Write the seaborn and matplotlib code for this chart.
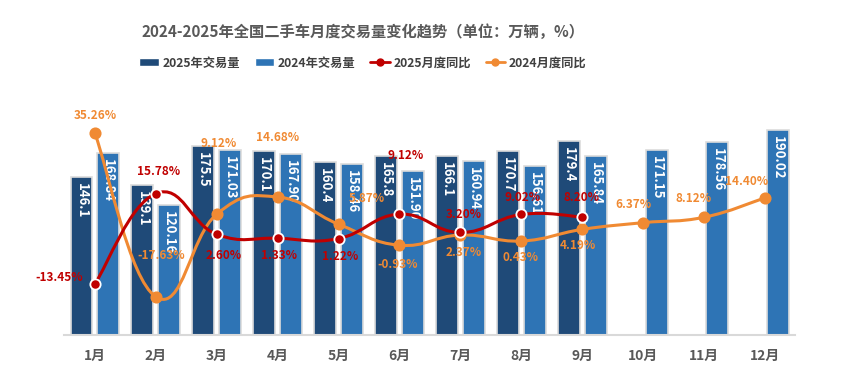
import numpy as np
import pandas as pd
import seaborn as sns
from matplotlib import pyplot as plt
from matplotlib.path import Path
from matplotlib.patches import PathPatch, Patch
from matplotlib.lines import Line2D

months = ['1月', '2月', '3月', '4月', '5月', '6月', '7月', '8月', '9月', '10月', '11月', '12月']
vol_2025 = [146.1, 139.1, 175.5, 170.1, 160.4, 165.8, 166.1, 170.7, 179.4]
vol_2024 = [168.84, 120.16, 171.03, 167.90, 158.46, 151.90, 160.94, 156.61, 165.84, 171.15, 178.56, 190.02]
yoy_2025 = [-13.45, 15.78, 2.60, 1.33, 1.22, 9.12, 3.20, 9.02, 8.20]
yoy_2024 = [35.26, -17.63, 9.12, 14.68, 5.87, -0.93, 2.37, 0.43, 4.19, 6.37, 8.12, 14.40]

# label offsets in pixels (dx, dy), layout only
off_2025 = [(-36, 6), (3, 22), (7, -21), (1, -17), (2, -18), (6, 59), (3, 18), (1, 17), (-1, 20)]
off_2024 = [(0, 18), (5, 41), (2, 71), (0, 59), (28, 26), (-2, -19), (3, -17), (-1, -16),
            (-4, -16), (-10, 18), (-10, 19), (-18, 16)]

C25 = '#1f4a78'
C24 = '#2e74b5'
RED = '#c00000'
ORG = '#f08a33'

sns.set_theme(style="white")
plt.rcParams['font.family'] = ['Noto Sans CJK SC', 'DejaVu Sans']

n = len(months)
df = pd.DataFrame({
    'month': months * 2,
    'year': ['2025年交易量'] * n + ['2024年交易量'] * n,
    'vol': vol_2025 + [np.nan] * (n - len(vol_2025)) + vol_2024,
})

fig = plt.figure(figsize=(8.48, 3.91), dpi=100)
ax = fig.add_axes([0.076, 0.1432, 0.862, 0.632])
sns.barplot(data=df, x='month', y='vol', hue='year', order=months,
            hue_order=['2025年交易量', '2024年交易量'], palette=[C25, C24], saturation=1,
            errorbar=None, width=0.88, gap=0.18, legend=False, ax=ax,
            edgecolor='#dcdcdc', linewidth=1.2)
ax.set_ylim(0, 229)
ax.set_xlim(-0.5, n - 0.5)
ax.set_xlabel('')
ax.set_ylabel('')
ax.set_yticks([])
for s in ['top', 'right', 'left']:
    ax.spines[s].set_visible(False)
ax.spines['bottom'].set_color('#d9d9d9')
ax.spines['bottom'].set_linewidth(1.5)
ax.tick_params(axis='x', length=0, pad=10)
for t in ax.get_xticklabels():
    t.set_fontweight('bold')
    t.set_fontsize(10)
    t.set_color('#595959')

# value labels inside bars
for cont, fmt in zip(ax.containers, ['{:.1f}', '{:.2f}']):
    for bar in cont:
        h = bar.get_height()
        if np.isnan(h) or h == 0:
            continue
        ax.annotate(fmt.format(h), (bar.get_x() + bar.get_width() / 2, h),
                    xytext=(0, -6), textcoords='offset pixels', rotation=-90,
                    ha='center', va='top', color='white', fontsize=9.5, fontweight='bold')

ax2 = ax.twinx()
ax2.set_ylim(-30, 50)
ax2.set_yticks([])
for s in ax2.spines.values():
    s.set_visible(False)


def smooth_path(xs, ys, k=0.22):
    pts = np.column_stack([xs, ys]).astype(float)
    verts = [pts[0]]
    codes = [Path.MOVETO]
    for i in range(len(pts) - 1):
        p0 = pts[i - 1] if i > 0 else pts[i]
        p1, p2 = pts[i], pts[i + 1]
        p3 = pts[i + 2] if i + 2 < len(pts) else pts[i + 1]
        c1 = p1 + (p2 - p0) * k
        c2 = p2 - (p3 - p1) * k
        verts += [c1, c2, p2]
        codes += [Path.CURVE4] * 3
    return Path(verts, codes)


for vals, col, offs, edge in [(yoy_2024, ORG, off_2024, ORG), (yoy_2025, RED, off_2025, 'white')]:
    xs = np.arange(len(vals))
    ax2.add_patch(PathPatch(smooth_path(xs, vals), facecolor='none', edgecolor=col, lw=2.2,
                            zorder=3))
    sns.scatterplot(x=xs, y=vals, color=col, s=55, edgecolor=edge, linewidth=1.3,
                    zorder=4, ax=ax2, legend=False)
    for x, v, (dx, dy) in zip(xs, vals, offs):
        ax2.annotate(f'{v:.2f}%', (x, v), xytext=(dx, dy), textcoords='offset pixels',
                     ha='center', va='center', color=col, fontsize=8.5, fontweight='bold',
                     zorder=5)

fig.text(0.428, 0.918, '2024-2025年全国二手车月度交易量变化趋势（单位：万辆，%）',
         ha='center', va='center', fontsize=11, fontweight='bold', color='#595959')

handles = [Patch(facecolor=C25), Patch(facecolor=C24),
           Line2D([0], [0], color=RED, lw=2, marker='o', markersize=5),
           Line2D([0], [0], color=ORG, lw=2, marker='o', markersize=5)]
labels = ['2025年交易量', '2024年交易量', '2025月度同比', '2024月度同比']
leg = fig.legend(handles, labels, loc='center', bbox_to_anchor=(0.428, 0.839), ncol=4,
                 frameon=False, handlelength=1.6, handleheight=0.6, handletextpad=0.3,
                 columnspacing=1.2, prop={'weight': 'bold', 'size': 8.8})
for t in leg.get_texts():
    t.set_color('#404040')

fig.savefig('out.png', dpi=100, facecolor='white')
